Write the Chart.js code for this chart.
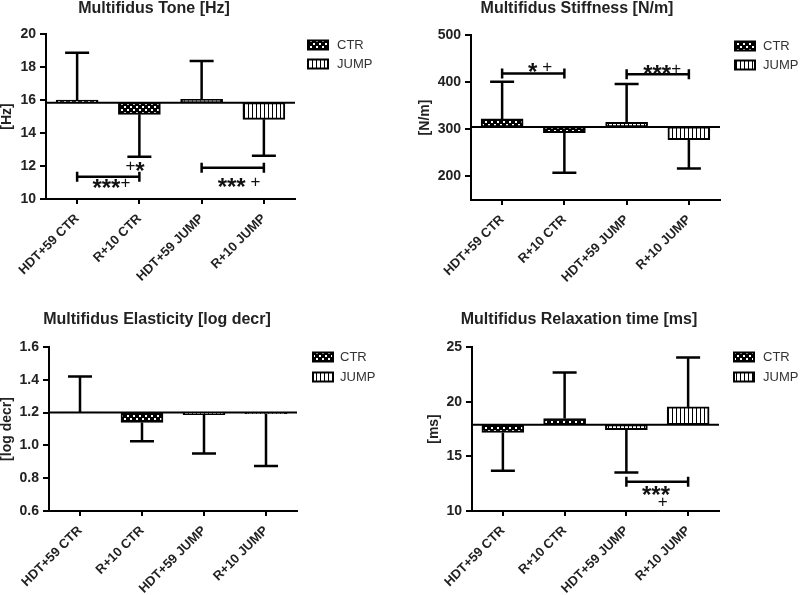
<!DOCTYPE html>
<html>
<head>
<meta charset="utf-8">
<script src="https://cdn.jsdelivr.net/npm/chart.js@4.4.0/dist/chart.umd.min.js"></script>
<style>
html, body { margin: 0; padding: 0; background: #fff; }
#wrap { position: relative; width: 800px; height: 595px; overflow: hidden; }
canvas { position: absolute; }
</style>
</head>
<body>
<div id="wrap">
  <canvas id="c1" width="400" height="300" style="left:0;top:0"></canvas>
  <canvas id="c2" width="400" height="300" style="left:400px;top:0"></canvas>
  <canvas id="c3" width="400" height="295" style="left:0;top:300px"></canvas>
  <canvas id="c4" width="400" height="295" style="left:400px;top:300px"></canvas>
</div>
<script>
const FAM = '"Liberation Sans", Arial, sans-serif';

const categories = ['HDT+59 CTR', 'R+10 CTR', 'HDT+59 JUMP', 'R+10 JUMP'];
const groups = ['CTR', 'CTR', 'JUMP', 'JUMP'];
const legendLabels = ['CTR', 'JUMP'];

// tone [Hz]
const toneBase = 15.84;
const toneMean = [16.0, 15.13, 16.04, 14.83];
const toneErr = [18.87, 12.56, 18.36, 12.62];
const toneTicks = [10, 12, 14, 16, 18, 20];
const toneBrackets = [{ from: 0, to: 1, y: 11.35 }, { from: 2, to: 3, y: 11.9 }];
const toneNotes = [{ x: 0.55, y: 11.0, text: '***+' }, { x: 0.93, y: 12.06, text: '+*' }, { x: 2.6, y: 11.09, text: '*** +' }];

// stiffness [N/m]
const stiffBase = 305;
const stiffMean = [322, 293, 315, 278];
const stiffErr = [401, 208, 396, 217];
const stiffTicks = [200, 300, 400, 500];
const stiffBrackets = [{ from: 0, to: 1, y: 418.5 }, { from: 2, to: 3, y: 416.5 }];
const stiffNotes = [{ x: 0.61, y: 434, text: '* +' }, { x: 2.57, y: 430, text: '***+' }];

// elasticity [log decr]
const elastBase = 1.2;
const elastMean = [1.203, 1.14, 1.187, 1.193];
const elastErr = [1.42, 1.025, 0.95, 0.875];
const elastTicks = [0.6, 0.8, 1.0, 1.2, 1.4, 1.6];

// relaxation time [ms]
const relaxBase = 17.9;
const relaxMean = [17.18, 18.46, 17.45, 19.52];
const relaxErr = [13.68, 22.66, 13.53, 24.03];
const relaxTicks = [10, 15, 20, 25];
const relaxBrackets = [{ from: 2, to: 3, y: 12.67 }];
const relaxNotes = [{ x: 2.48, y: 12.0, text: '***' }, { x: 2.59, y: 10.9, text: '+' }];

function makePattern(kind) {
  const c = document.createElement('canvas');
  const g = c.getContext('2d');
  if (kind === 'CTR') {
    c.width = 6; c.height = 6;
    g.fillStyle = '#000'; g.fillRect(0, 0, 6, 6);
    g.fillStyle = '#fff'; g.fillRect(1, 1, 2, 2); g.fillRect(4, 4, 2, 2);
  } else {
    c.width = 4; c.height = 4;
    g.fillStyle = '#fff'; g.fillRect(0, 0, 4, 4);
    g.fillStyle = '#000'; g.fillRect(0, 0, 1, 4);
  }
  return g.createPattern(c, 'repeat');
}
const patterns = { CTR: makePattern('CTR'), JUMP: makePattern('JUMP') };

function drawNote(ctx, text, cx, cy) {
  const parts = [...text].map(ch => {
    const size = ch === '*' ? 24 : 17;
    const font = (ch === '*' ? 'bold ' : '') + size + 'px ' + FAM;
    ctx.font = font;
    return { ch, font, size, w: ctx.measureText(ch).width };
  });
  const total = parts.reduce((a, b) => a + b.w, 0);
  let x = cx - total / 2;
  ctx.textAlign = 'left';
  ctx.textBaseline = 'alphabetic';
  ctx.fillStyle = '#111';
  parts.forEach(p => {
    ctx.font = p.font;
    const dy = p.ch === '*' ? p.size * 0.58 : p.size * 0.35;
    ctx.fillText(p.ch, x, cy + dy);
    x += p.w;
  });
}

function makeExtras(p) {
  return {
    id: 'extras',
    afterDatasetsDraw(chart) {
      const ctx = chart.ctx;
      const xs = chart.scales.x, ys = chart.scales.y;
      const area = chart.chartArea;
      ctx.save();
      ctx.strokeStyle = '#000';
      ctx.lineCap = 'butt';

      // baseline
      ctx.lineWidth = 2;
      const by = ys.getPixelForValue(p.base);
      ctx.beginPath(); ctx.moveTo(area.left, by); ctx.lineTo(area.right, by); ctx.stroke();

      // error bars
      ctx.lineWidth = 2.5;
      p.mean.forEach((m, i) => {
        const x = xs.getPixelForValue(i);
        const y0 = ys.getPixelForValue(m), y1 = ys.getPixelForValue(p.err[i]);
        ctx.beginPath();
        ctx.moveTo(x, y0); ctx.lineTo(x, y1);
        ctx.moveTo(x - 12, y1); ctx.lineTo(x + 12, y1);
        ctx.stroke();
      });

      // significance brackets
      (p.brackets || []).forEach(b => {
        const x0 = xs.getPixelForValue(b.from), x1 = xs.getPixelForValue(b.to);
        const y = ys.getPixelForValue(b.y);
        ctx.beginPath();
        ctx.moveTo(x0, y); ctx.lineTo(x1, y);
        ctx.moveTo(x0, y - 5); ctx.lineTo(x0, y + 5);
        ctx.moveTo(x1, y - 5); ctx.lineTo(x1, y + 5);
        ctx.stroke();
      });
      (p.notes || []).forEach(n => {
        drawNote(ctx, n.text, xs.getPixelForValue(n.x), ys.getPixelForValue(n.y));
      });
      ctx.restore();
    },
    afterDraw(chart) {
      const ctx = chart.ctx;
      ctx.save();
      ctx.fillStyle = '#222';
      ctx.font = 'bold 16px ' + FAM;
      ctx.textAlign = 'center';
      ctx.textBaseline = 'middle';
      ctx.fillText(p.title, p.titleX, p.titleY);

      legendLabels.forEach((lab, i) => {
        const y = p.legendY + i * p.legendGap;
        ctx.fillStyle = patterns[lab];
        ctx.fillRect(p.legendX, y - 4.5, 20, 9);
        ctx.strokeStyle = '#000';
        ctx.lineWidth = 2;
        ctx.strokeRect(p.legendX, y - 4.5, 20, 9);
        ctx.fillStyle = '#333';
        ctx.font = '13px ' + FAM;
        ctx.textAlign = 'left';
        ctx.fillText(lab, p.legendTextX, y);
      });
      ctx.restore();
    }
  };
}

const panels = [
  { id: 'c1', title: 'Multifidus Tone [Hz]', unit: '[Hz]', base: toneBase, mean: toneMean, err: toneErr,
    ticks: toneTicks, min: 10, max: 20, dec: 0, brackets: toneBrackets, notes: toneNotes,
    left: 46, right: 295, top: 34, bottom: 199, h: 300, unitPad: 0,
    titleX: 154, titleY: 9, legendX: 308, legendTextX: 337, legendY: 45, legendGap: 19 },
  { id: 'c2', title: 'Multifidus Stiffness [N/m]', unit: '[N/m]', base: stiffBase, mean: stiffMean, err: stiffErr,
    ticks: stiffTicks, min: 150, max: 500, dec: 0, brackets: stiffBrackets, notes: stiffNotes,
    left: 71, right: 320, top: 35, bottom: 200, h: 300, unitPad: 18,
    titleX: 177, titleY: 9, legendX: 335, legendTextX: 363, legendY: 46, legendGap: 19 },
  { id: 'c3', title: 'Multifidus Elasticity [log decr]', unit: '[log decr]', base: elastBase, mean: elastMean, err: elastErr,
    ticks: elastTicks, min: 0.6, max: 1.6, dec: 1, brackets: [], notes: [],
    left: 49, right: 297, top: 47, bottom: 211, h: 295, unitPad: 0,
    titleX: 157, titleY: 20, legendX: 313, legendTextX: 340, legendY: 57, legendGap: 20 },
  { id: 'c4', title: 'Multifidus Relaxation time [ms]', unit: '[ms]', base: relaxBase, mean: relaxMean, err: relaxErr,
    ticks: relaxTicks, min: 10, max: 25, dec: 0, brackets: relaxBrackets, notes: relaxNotes,
    left: 72, right: 319, top: 47, bottom: 211, h: 295, unitPad: 27,
    titleX: 179, titleY: 20, legendX: 334, legendTextX: 363, legendY: 57, legendGap: 20 }
];

panels.forEach(p => {
  new Chart(document.getElementById(p.id), {
    type: 'bar',
    data: {
      labels: categories,
      datasets: [{
        data: p.mean.map(v => [p.base, v]),
        backgroundColor: groups.map(g => patterns[g]),
        borderColor: '#000',
        borderWidth: 2,
        borderSkipped: false,
        barThickness: 42
      }]
    },
    options: {
      responsive: false,
      animation: false,
      events: [],
      layout: { padding: { left: 0, top: p.top, right: 400 - p.right, bottom: 0 } },
      plugins: { legend: { display: false }, tooltip: { enabled: false } },
      scales: {
        x: {
          grid: { drawOnChartArea: false, offset: false, color: '#000', lineWidth: 2, tickLength: 5 },
          border: { color: '#000', width: 2 },
          ticks: { color: '#222', font: { family: FAM, size: 13, weight: 'bold' },
                   minRotation: 45, maxRotation: 45, autoSkip: false, padding: 7 },
          afterFit(s) { s.height = p.h - p.bottom; }
        },
        y: {
          min: p.min, max: p.max,
          afterBuildTicks(s) { s.ticks = p.ticks.map(v => ({ value: v })); },
          grid: { drawOnChartArea: false, color: '#000', lineWidth: 2, tickLength: 6 },
          border: { color: '#000', width: 2 },
          ticks: { color: '#222', font: { family: FAM, size: 14, weight: 'bold' }, padding: 4,
                   callback: v => Number(v).toFixed(p.dec) },
          title: { display: true, text: p.unit, color: '#222',
                   font: { family: FAM, size: 14, weight: 'bold', lineHeight: 1 },
                   padding: { top: p.unitPad, bottom: 0 } },
          afterFit(s) { s.width = p.left; }
        }
      }
    },
    plugins: [makeExtras(p)]
  });
});
</script>
</body>
</html>
